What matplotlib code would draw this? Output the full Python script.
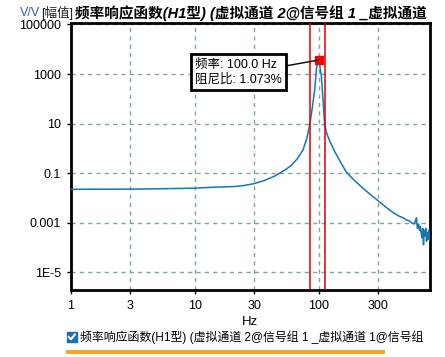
import matplotlib
matplotlib.use('Agg')
import matplotlib.pyplot as plt
from matplotlib.patches import Rectangle

plt.rcParams['font.family'] = ['Liberation Sans', 'Noto Sans CJK SC', 'DejaVu Sans']

# frequency response magnitude
freq_hz = [1, 3, 5, 10, 13.4, 20.7, 25, 30, 36, 43.6, 48.3, 55, 60, 67, 74.6,
           80, 84.5, 88, 92.7, 95.5, 97.5, 99, 100, 101.5, 103, 105, 108,
           111.6, 116, 122.5, 132, 146, 167, 195, 227, 260, 300, 350, 397,
           450, 480, 509, 540, 560, 590, 614, 625, 640, 650, 660, 670, 680,
           690, 700, 710, 720, 730, 740, 750, 760, 770, 780, 790]
magnitude = [0.0225, 0.0228, 0.0235, 0.025, 0.027, 0.029, 0.032, 0.038, 0.05,
             0.075, 0.1, 0.15, 0.21, 0.38, 0.87,
             2.5, 9, 35, 230, 1500, 2800, 3600, 3700, 2500, 1500, 800, 100,
             9, 4, 2.0, 0.9, 0.35, 0.11, 0.05, 0.025, 0.014, 0.0079, 0.0042, 0.0026,
             0.0018, 0.0016, 0.0013, 0.0012, 0.0010, 0.0009, 0.0016, 0.0006, 0.0009, 0.0005,
             0.0007, 0.0004, 0.00025, 0.0006, 0.00013, 0.0005, 0.0003, 0.0006, 0.00018,
             0.0004, 0.00022, 0.0005, 0.0002, 0.0004]

peak_freq = 100.0
peak_mag = 3700
damping = 1.073
cursor_lo, cursor_hi = 85, 112

x_ticks = [1, 3, 10, 30, 100, 300]
x_labels = ['1', '3', '10', '30', '100', '300']
y_ticks = [1e-5, 1e-3, 1e-1, 1e1, 1e3, 1e5]
y_labels = ['1E-5', '0.001', '0.1', '10', '1000', '100000']

W, H = 445, 357
fig = plt.figure(figsize=(W / 100, H / 100), dpi=100)
ax = fig.add_axes([71 / W, 1 - 290 / H, (430 - 71) / W, (290 - 22.7) / H])

ax.set_xscale('log')
ax.set_yscale('log')
ax.set_xlim(1, 790)
ax.set_ylim(1.95e-6, 1.18e5)

ax.grid(True, which='major', color='#7fa6a6', linestyle=(0, (3, 3)), linewidth=1)
ax.set_xticks(x_ticks)
ax.set_xticklabels(x_labels)
ax.set_yticks(y_ticks)
ax.set_yticklabels(y_labels)
ax.minorticks_off()
ax.tick_params(direction='out', length=3, width=1, labelsize=9, colors='black', pad=4)
for s in ax.spines.values():
    s.set_linewidth(2)
    s.set_color('black')

ax.plot(freq_hz, magnitude, color='#1577b0', linewidth=1.1, zorder=3)
ax.axvline(cursor_lo, color='#e00000', linewidth=1.1, zorder=4)
ax.axvline(cursor_hi, color='#e00000', linewidth=1.1, zorder=4)
ax.plot([peak_freq], [peak_mag], marker='s', markersize=6, color='#ff0000', zorder=5)

ax.annotate('频率: %.1f Hz\n阻尼比: %.3f%%' % (peak_freq, damping),
            xy=(peak_freq, peak_mag), xytext=(195, H - 72),
            textcoords='figure pixels', ha='left', va='center', fontsize=9,
            linespacing=1.25,
            bbox=dict(boxstyle='square,pad=0.35', fc='white', ec='black', lw=2),
            arrowprops=dict(arrowstyle='-', color='black', lw=1, relpos=(1.0, 0.7),
                            shrinkA=0, shrinkB=0), zorder=6)

# title and unit label
fig.text(20 / W, 1 - 13 / H, 'V/V', color='#2a5caa', fontsize=9, va='center')
fig.text(41 / W, 1 - 13 / H, '[幅值]', color='#222222', fontsize=9, va='center')
fig.text(75 / W, 1 - 13 / H, '频率响应函数(H1型) (虚拟通道 2@信号组 1 _虚拟通道',
         fontsize=10.5, fontweight='bold', style='italic', va='center')

fig.text(250 / W, 1 - 322 / H, 'Hz', fontsize=9.5, ha='center', va='center')

# legend row
fig.patches.append(Rectangle((66.5, H - 342), 10, 10, transform=None,
                             fc='#1a6fb5', ec='#1a6fb5', figure=fig))
fig.lines.append(plt.Line2D([68.8, 71, 74.8], [H - 337, H - 339.3, H - 334.5],
                            transform=None, color='white', lw=1.5, figure=fig))
fig.text(80 / W, 1 - 337 / H, '频率响应函数(H1型) (虚拟通道 2@信号组 1 _虚拟通道 1@信号组',
         fontsize=8.6, va='center')
fig.patches.append(Rectangle((66, H - 354), 319, 4, transform=None,
                             fc='#f5a623', ec='none', figure=fig))

fig.savefig('out.png', dpi=100)
